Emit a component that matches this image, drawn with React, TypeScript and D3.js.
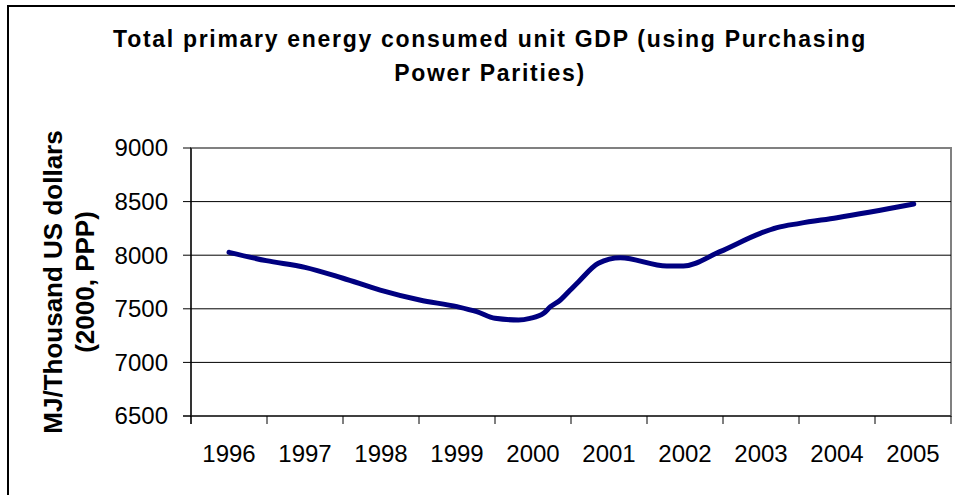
import React, { useEffect, useRef } from "react";
import * as d3 from "d3";

const titleLines = ["Total primary energy consumed unit GDP (using Purchasing", "Power Parities)"];
const yTitleLines = ["MJ/Thousand US dollars", "(2000, PPP)"];

const years = ["1996", "1997", "1998", "1999", "2000", "2001", "2002", "2003", "2004", "2005"];
const yTicks = [6500, 7000, 7500, 8000, 8500, 9000];

// readings along the curve (decimal year, value)
const pointYears = [
    1996.0, 1996.49, 1997.0, 1997.5, 1997.99, 1998.51, 1999.0, 1999.26, 1999.5, 1999.81,
    1999.96, 2000.14, 2000.23, 2000.36, 2000.49, 2000.6, 2000.86, 2001.15, 2001.76, 2001.98,
    2002.46, 2002.99, 2003.21, 2003.51, 2004.0, 2005.01,
];
const pointValues = [
    8027, 7949, 7887, 7785, 7675, 7582, 7520, 7473, 7411, 7396,
    7411, 7458, 7520, 7582, 7675, 7753, 7924, 7977, 7899, 7899,
    8033, 8204, 8257, 8297, 8350, 8478,
];

export default function App() {
    const ref = useRef<SVGSVGElement>(null);

    const width = 955;
    const height = 495;
    const plot = { left: 191, right: 951, top: 148, bottom: 416 };

    useEffect(() => {
        const svg = d3.select(ref.current);
        svg.selectAll("*").remove();

        const font = "Arial, 'Liberation Sans', sans-serif";

        // outer chart frame
        svg.append("rect")
            .attr("x", 8)
            .attr("y", 6)
            .attr("width", 1000)
            .attr("height", 600)
            .attr("fill", "#fff")
            .attr("stroke", "#000")
            .attr("stroke-width", 2);

        const x = d3.scaleBand().domain(years).range([plot.left, plot.right]);
        const xLin = d3.scaleLinear().domain([1995.5, 2005.5]).range([plot.left, plot.right]);
        const y = d3.scaleLinear().domain([6500, 9000]).range([plot.bottom, plot.top]);

        // plot area frame (gray)
        svg.append("rect")
            .attr("x", plot.left)
            .attr("y", plot.top)
            .attr("width", plot.right - plot.left)
            .attr("height", plot.bottom - plot.top)
            .attr("fill", "#fff")
            .attr("stroke", "#808080")
            .attr("stroke-width", 2);

        // gridlines
        svg.append("g")
            .selectAll("line")
            .data(yTicks.slice(1, -1))
            .enter()
            .append("line")
            .attr("x1", plot.left)
            .attr("x2", plot.right)
            .attr("y1", (d) => y(d))
            .attr("y2", (d) => y(d))
            .attr("stroke", "#000")
            .attr("stroke-width", 1);

        // y axis
        const yAxis = svg.append("g");
        yAxis.append("line")
            .attr("x1", plot.left).attr("x2", plot.left)
            .attr("y1", plot.top).attr("y2", plot.bottom + 8)
            .attr("stroke", "#000").attr("stroke-width", 1.2);
        yAxis.selectAll(".tick")
            .data(yTicks)
            .enter()
            .append("line")
            .attr("x1", plot.left - 8)
            .attr("x2", plot.left)
            .attr("y1", (d) => y(d))
            .attr("y2", (d) => y(d))
            .attr("stroke", "#000");
        yAxis.selectAll("text")
            .data(yTicks)
            .enter()
            .append("text")
            .attr("x", 168)
            .attr("y", (d) => y(d))
            .attr("dy", "0.35em")
            .attr("text-anchor", "end")
            .style("font-family", font)
            .style("font-size", "24px")
            .text((d) => d);

        // x axis
        const xAxis = svg.append("g");
        xAxis.append("line")
            .attr("x1", plot.left - 8).attr("x2", plot.right)
            .attr("y1", plot.bottom).attr("y2", plot.bottom)
            .attr("stroke", "#000").attr("stroke-width", 1.2);
        const bounds = years.map((d) => x(d) as number).concat([plot.right]);
        xAxis.selectAll(".tick")
            .data(bounds)
            .enter()
            .append("line")
            .attr("x1", (d) => d)
            .attr("x2", (d) => d)
            .attr("y1", plot.bottom)
            .attr("y2", plot.bottom + 8)
            .attr("stroke", "#000");
        xAxis.selectAll("text")
            .data(years)
            .enter()
            .append("text")
            .attr("x", (d) => (x(d) as number) + x.bandwidth() / 2)
            .attr("y", 462)
            .attr("text-anchor", "middle")
            .style("font-family", font)
            .style("font-size", "24px")
            .text((d) => d);

        // series line
        const pts = pointYears.map((t, i) => [t, pointValues[i]] as [number, number]);
        const line = d3.line<[number, number]>()
            .x((d) => xLin(d[0]))
            .y((d) => y(d[1]))
            .curve(d3.curveMonotoneX);
        svg.append("path")
            .datum(pts)
            .attr("d", line)
            .attr("fill", "none")
            .attr("stroke", "#000080")
            .attr("stroke-width", 5)
            .attr("stroke-linejoin", "round")
            .attr("stroke-linecap", "round");

        // title
        svg.append("g")
            .selectAll("text")
            .data(titleLines)
            .enter()
            .append("text")
            .attr("x", 490)
            .attr("y", (_, i) => 47 + i * 34)
            .attr("text-anchor", "middle")
            .style("font-family", font)
            .style("font-size", "23px")
            .style("font-weight", "bold")
            .style("letter-spacing", "1.7px")
            .text((d) => d);

        // y axis title
        const cy = (plot.top + plot.bottom) / 2;
        svg.append("g")
            .selectAll("text")
            .data(yTitleLines)
            .enter()
            .append("text")
            .attr("transform", (_, i) => `translate(${62 + i * 32}, ${cy}) rotate(-90)`)
            .attr("text-anchor", "middle")
            .style("font-family", font)
            .style("font-size", "26px")
            .style("font-weight", "bold")
            .text((d) => d);
    }, []);

    return (
        <svg
            ref={ref}
            width={width}
            height={height}
            style={{ position: "absolute", left: 0, top: 0, background: "#fff" }}
        />
    );
}
